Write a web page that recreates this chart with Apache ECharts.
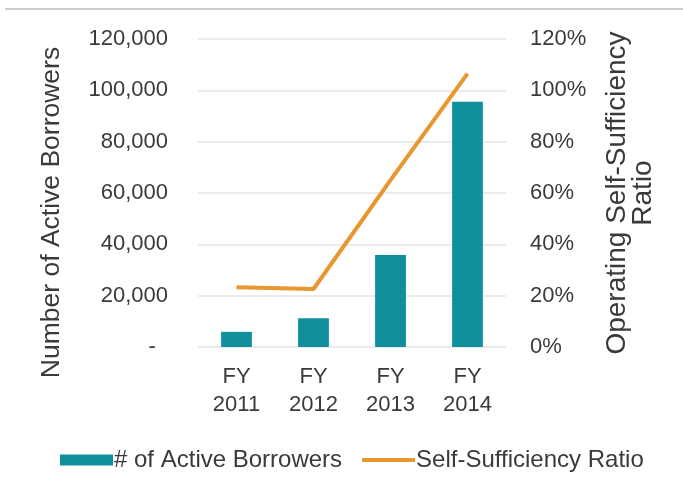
<!DOCTYPE html>
<html>
<head>
<meta charset="utf-8">
<script src="https://cdn.jsdelivr.net/npm/echarts@6/dist/echarts.min.js"></script>
<style>
  html, body { margin: 0; padding: 0; background: #fff; }
  #chart { width: 683px; height: 486px; }
</style>
</head>
<body>
<div id="chart"></div>
<script>
// values
const years = ["FY\n2011", "FY\n2012", "FY\n2013", "FY\n2014"];
const activeBorrowers = [5900, 11200, 35800, 95600];
const selfSufficiency = [23.3, 22.6, 65, 106.5];

const TEXT = "#3a3a3a";
const TEAL = "#10909a";
const ORANGE = "#e8962e";
const FONT = "Liberation Sans";

const chart = echarts.init(document.getElementById("chart"), null, { renderer: "canvas" });

chart.setOption({
  animation: false,
  textStyle: { fontFamily: FONT, color: TEXT },
  grid: { left: 198, right: 177, top: 39, bottom: 139 },
  graphic: [
    {
      type: "line",
      shape: { x1: 5, y1: 9, x2: 683, y2: 9 },
      style: { stroke: "#cccccc", lineWidth: 2 },
      silent: true,
    },
  ],
  legend: {
    left: 55,
    top: 443,
    itemWidth: 53,
    itemHeight: 11,
    itemGap: 20,
    textStyle: { fontFamily: FONT, fontSize: 24, color: TEXT, padding: [0, 0, 0, -4] },
    data: [
      { name: "# of Active Borrowers", icon: "rect" },
      { name: "Self-Sufficiency Ratio", icon: "path://M0 0H55V4H0Z" },
    ],
  },
  xAxis: {
    type: "category",
    data: years,
    axisLine: { show: false },
    axisTick: { show: false },
    axisLabel: {
      fontFamily: FONT,
      fontSize: 22,
      color: TEXT,
      lineHeight: 28,
      margin: 16,
    },
  },
  yAxis: [
    {
      type: "value",
      min: 0,
      max: 120000,
      interval: 20000,
      name: "Number of Active Borrowers",
      nameLocation: "middle",
      nameGap: 133,
      nameRotate: 90,
      nameTextStyle: { fontFamily: FONT, fontSize: 26.5, color: TEXT, padding: [0, 39, 0, 0] },
      axisLine: { show: false },
      axisTick: { show: false },
      axisLabel: {
        fontFamily: FONT,
        fontSize: 22,
        color: TEXT,
        margin: 30,
        formatter: (v) => (v === 0 ? "-  " : v.toLocaleString("en-US")),
      },
      splitLine: { lineStyle: { color: "#e4e4e4", width: 1.5 } },
    },
    {
      type: "value",
      min: 0,
      max: 120,
      interval: 20,
      position: "right",
      name: "Operating Self-Sufficiency\nRatio",
      nameLocation: "middle",
      nameGap: 98,
      nameRotate: 90,
      nameTextStyle: { fontFamily: FONT, fontSize: 28, color: TEXT, lineHeight: 26 },
      axisLine: { show: false },
      axisTick: { show: false },
      axisLabel: {
        fontFamily: FONT,
        fontSize: 22,
        color: TEXT,
        margin: 24,
        formatter: "{value}%",
      },
      splitLine: { show: false },
    },
  ],
  series: [
    {
      name: "# of Active Borrowers",
      type: "bar",
      data: activeBorrowers,
      barWidth: "40%",
      itemStyle: { color: TEAL },
    },
    {
      name: "Self-Sufficiency Ratio",
      type: "line",
      yAxisIndex: 1,
      data: selfSufficiency,
      symbol: "none",
      lineStyle: { color: ORANGE, width: 4 },
      itemStyle: { color: ORANGE },
    },
  ],
});
</script>
</body>
</html>
